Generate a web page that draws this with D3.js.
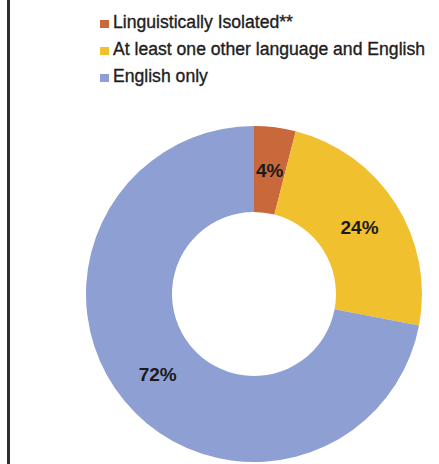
<!DOCTYPE html>
<html lang="en">
<head>
    <meta charset="UTF-8">
    <title>Language spoken at home</title>
    <script src="https://d3js.org/d3.v7.min.js"></script>
    <style>
        html, body {
            margin: 0;
            background: #fff;
        }
        svg text {
            font-family: "Liberation Sans", Arial, sans-serif;
        }
    </style>
</head>
<body>
    <div id="chart"></div>
    <script>
        // values
        var categories = ["Linguistically Isolated**", "At least one other language and English", "English only"];
        var shares = [4, 24, 72];
        var labels = ["4%", "24%", "72%"];
        var colours = ["#c9683a", "#f1c02f", "#8e9fd3"];

        var width = 439;
        var height = 464;

        var svg = d3.select("#chart").append("svg")
            .attr("width", width)
            .attr("height", height);

        // frame line on the left edge
        svg.append("line")
            .attr("x1", 8.5).attr("x2", 8.5)
            .attr("y1", 0).attr("y2", height)
            .style("stroke", "#2b2f2f")
            .style("stroke-width", 3);

        // legend
        var legend = svg.append("g")
            .attr("transform", "translate(100,0)");
        var rows = legend.selectAll("g")
            .data(categories)
            .enter().append("g")
            .attr("transform", function (d, i) {
                return "translate(0," + (28 + i * 27) + ")";
            });
        rows.append("rect")
            .attr("x", 0)
            .attr("y", -8)
            .attr("width", 9)
            .attr("height", 8)
            .style("fill", function (d, i) { return colours[i]; });
        rows.append("text")
            .attr("x", 13)
            .attr("y", 0)
            .style("font-size", "17.6px")
            .style("fill", "#1e1e1e")
            .style("stroke", "#1e1e1e")
            .style("stroke-width", 0.35)
            .text(function (d) { return d; });

        // donut
        var cx = 254, cy = 294;
        var outer = 168, inner = 82;

        var pie = d3.pie()
            .sort(null)
            .value(function (d) { return d; });
        var arc = d3.arc()
            .innerRadius(inner)
            .outerRadius(outer);

        var g = svg.append("g")
            .attr("transform", "translate(" + cx + "," + cy + ")");

        var slices = pie(shares);

        g.selectAll("path")
            .data(slices)
            .enter().append("path")
            .attr("d", arc)
            .style("fill", function (d, i) { return colours[i]; });

        g.selectAll(".lbl")
            .data(slices)
            .enter().append("text")
            .attr("class", "lbl")
            .attr("transform", function (d) {
                return "translate(" + arc.centroid(d) + ")";
            })
            .attr("text-anchor", "middle")
            .attr("dy", "0.36em")
            .style("font-size", "19px")
            .style("font-weight", "bold")
            .style("fill", "#1b1b1b")
            .text(function (d, i) { return labels[i]; });
    </script>
</body>
</html>
